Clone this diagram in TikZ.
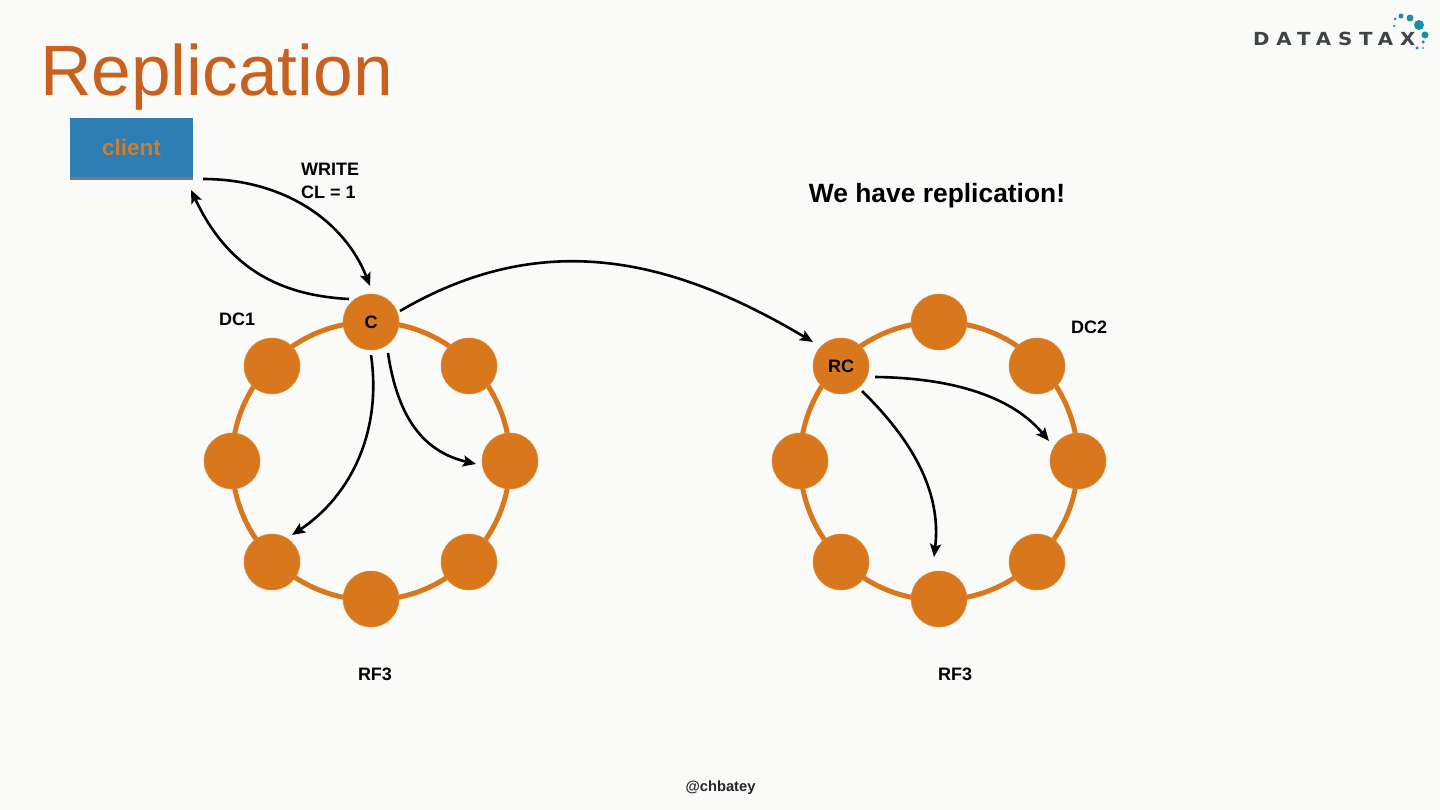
\documentclass[tikz,border=0pt]{standalone}
\usepackage{fontspec}
\setmainfont{Liberation Sans}
\newfontfamily\logofont{DejaVu Sans Bold}[FakeStretch=1.1,LetterSpace=38]
\usetikzlibrary{arrows.meta,shadows}
\definecolor{bgc}{HTML}{FAFAF9}
\definecolor{ringc}{HTML}{D8771C}
\definecolor{titlec}{HTML}{C8601F}
\definecolor{clientc}{HTML}{2F7DB5}
\definecolor{clienttext}{HTML}{C97F30}
\definecolor{logoc}{HTML}{3F4447}
\definecolor{dotc}{HTML}{1F8EA8}
\tikzset{
  x=1pt,y=-1pt,
  ringline/.style={draw=ringc,line width=5pt},
  hostnode/.style={circle,fill=ringc,draw=ringc!85!white,line width=0.5pt,minimum size=56pt,inner sep=0pt,font=\bfseries\fontsize{18}{20}\selectfont},
  lbl/.style={font=\bfseries\fontsize{18}{23}\selectfont,text=black,inner sep=0pt},
  conn/.style={draw=black,line width=2.6pt,-{Stealth[length=13pt,width=11pt,inset=2.5pt]}},
  logodot/.style={circle,fill=dotc,inner sep=0pt},
}
\begin{document}
\begin{tikzpicture}
\useasboundingbox (0,0) rectangle (1440,810);
\fill[bgc] (0,0) rectangle (1440,810);
% title
\node[anchor=base west,inner sep=0pt,text=titlec,font=\fontsize{71.3}{80}\selectfont] (title) at (40,96) {Replication};
% logo
\node[anchor=base west,inner sep=0pt,text=logoc,font=\logofont\fontsize{18}{22}\selectfont] (logo) at (1253,45.5) {DATASTAX};
\foreach \n/\px/\py/\d in {a/1401/16/5,b/1410/18/7,c/1419/25/10,e/1395/19/3,f/1394/26/2.5,g/1425/35/7,h/1423/42/3.5,i/1417/48/3.5,j/1423/48/2}
  \node[logodot,minimum size=\d pt] (dot\n) at (\px,\py) {};
% client
\node[rectangle,fill=clientc,minimum width=123pt,minimum height=59pt,inner sep=0pt,
  drop shadow={shadow xshift=0pt,shadow yshift=-3pt,opacity=.5,fill=black},
  text=clienttext,font=\bfseries\fontsize{22.5}{24}\selectfont] (client) at (131.5,147.5) {client};
% rings
\node[circle,ringline,minimum size=278pt,inner sep=0pt] (ring1) at (371,461) {};
\node[circle,ringline,minimum size=278pt,inner sep=0pt] (ring2) at (939,461) {};
% nodes
\node[hostnode] (c) at (371,322) {C};
\node[hostnode] (n2) at (469,366) {};
\node[hostnode] (n3) at (510,461) {};
\node[hostnode] (n4) at (469,562) {};
\node[hostnode] (n5) at (371,599) {};
\node[hostnode] (n6) at (272,562) {};
\node[hostnode] (n7) at (232,461) {};
\node[hostnode] (n8) at (272,366) {};
\node[hostnode] (m1) at (939,322) {};
\node[hostnode] (m2) at (1037,366) {};
\node[hostnode] (m3) at (1078,461) {};
\node[hostnode] (m4) at (1037,562) {};
\node[hostnode] (m5) at (939,599) {};
\node[hostnode] (rc) at (841,562) {};
\node[hostnode] (m7) at (800,461) {};
\node[hostnode] (rcn) at (841,366) {RC};
% labels
\node[lbl,anchor=north west,align=left] (write) at (301,162.5) {WRITE\\CL = 1};
\node[lbl,anchor=base west] (dc1) at (219,326) {DC1};
\node[lbl,anchor=base west] (dc2) at (1071,333) {DC2};
\node[lbl,anchor=base] (rf1) at (375,680) {RF3};
\node[lbl,anchor=base] (rf2) at (955,680) {RF3};
\node[anchor=base,inner sep=0pt,font=\bfseries\fontsize{26.4}{30}\selectfont] (have) at (937,203) {We have replication!};
\node[anchor=base,inner sep=0pt,font=\bfseries\fontsize{14.7}{17}\selectfont,text=black!85] (hnd) at (720.5,791) {@chbatey};
% connector ends
\coordinate (cl1) at (203,179);
\coordinate (ct) at (370,286);
\coordinate (c1) at (349,299);
\coordinate (cl2) at (191,190);
\coordinate (c2) at (371,355);
\coordinate (t6) at (292,535);
\coordinate (c3) at (388,353);
\coordinate (t3) at (476,464);
\coordinate (c4) at (400,311);
\coordinate (rt) at (813,342);
\coordinate (r1) at (875,377);
\coordinate (tm3) at (1049,441);
\coordinate (r2) at (862,391);
\coordinate (tm5) at (934,557);
% connectors
\draw[conn] (cl1) .. controls (285,179) and (345,222) .. (ct);
\draw[conn] (c1) .. controls (270,295) and (224,260) .. (cl2);
\draw[conn] (c2) .. controls (382,430) and (352,495) .. (t6);
\draw[conn] (c3) .. controls (398,420) and (425,452) .. (t3);
\draw[conn] (c4) .. controls (545,226) and (675,260) .. (rt);
\draw[conn] (r1) .. controls (960,378) and (1015,400) .. (tm3);
\draw[conn] (r2) .. controls (910,438) and (942,490) .. (tm5);
\end{tikzpicture}
\end{document}
